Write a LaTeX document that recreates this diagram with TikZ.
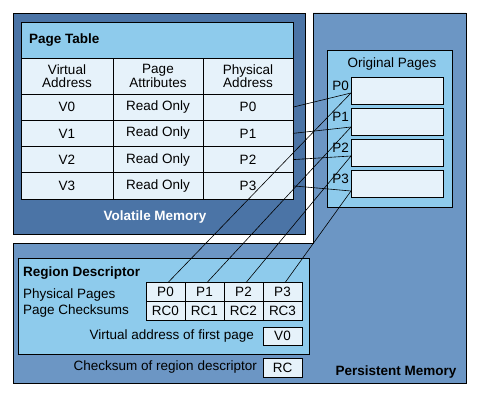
\documentclass[tikz,border=0pt]{standalone}
\usepackage{fontspec}
\setmainfont{Liberation Sans}
\usepackage{xcolor}
\definecolor{volblue}{RGB}{75,116,166}
\definecolor{persblue}{RGB}{108,150,196}
\definecolor{paneblue}{RGB}{142,203,236}
\definecolor{cellblue}{RGB}{230,242,250}
\usepackage{tikz}
\usetikzlibrary{positioning}
\newcommand{\memfont}{\fontsize{13.5}{12.5}\selectfont}
\tikzset{
  memarea/.style={draw=black, line width=0.8pt, inner sep=0pt, outer sep=0pt},
  panel/.style={memarea, fill=paneblue},
  cell/.style={memarea, fill=cellblue, align=center, font=\memfont},
  colvirt/.style={cell, minimum width=92pt, minimum height=26.25pt},
  colattr/.style={cell, minimum width=90pt, minimum height=26.25pt},
  colphys/.style={cell, minimum width=90pt, minimum height=26.25pt},
  headcell/.style={cell, minimum height=36pt},
  pagebox/.style={cell, minimum width=92pt, minimum height=27pt},
  slot/.style={cell, minimum width=39pt, minimum height=19pt},
  plaintext/.style={inner sep=0pt, font=\memfont},
  headtext/.style={inner sep=0pt, font=\memfont\bfseries},
  link/.style={draw=black, line width=0.6pt},
}

\begin{document}
\begin{tikzpicture}[x=1pt, y=-1pt]
  \useasboundingbox (0,0) rectangle (479,396);

  % memory areas
  \draw[memarea, fill=persblue] (313,13) -- (466,13) -- (466,383) -- (13,383)
    -- (13,243) -- (313,243) -- cycle;
  \node[memarea, fill=volblue, anchor=north west, minimum width=292pt, minimum height=221pt] (volatile) at (13,13) {};
  \node[headtext, text=white, anchor=base] (vollabel) at (155,220) {Volatile Memory};
  \node[headtext, anchor=base] (perslabel) at (396,375) {Persistent Memory};

  % page table
  \node[panel, anchor=north west, minimum width=272pt, minimum height=36pt] (pttitle) at (21,22) {};
  \node[headtext, anchor=base west] (ptname) at (29,44) {Page Table};

  \node[headcell, minimum width=92pt, below right=0pt and 0pt of pttitle.south west] (hvirt) {Virtual\\Address};
  \node[headcell, minimum width=90pt, right=0pt of hvirt] (hattr) {Page\\Attributes};
  \node[headcell, minimum width=90pt, right=0pt of hattr] (hphys) {Physical\\Address};

  \node[colvirt, below=0pt of hvirt] (va0) {V0};
  \node[colattr, right=0pt of va0] (at0) {Read Only};
  \node[colphys, right=0pt of at0] (pa0) {P0};
  \node[colvirt, below=0pt of va0] (va1) {V1};
  \node[colattr, right=0pt of va1] (at1) {Read Only};
  \node[colphys, right=0pt of at1] (pa1) {P1};
  \node[colvirt, below=0pt of va1] (va2) {V2};
  \node[colattr, right=0pt of va2] (at2) {Read Only};
  \node[colphys, right=0pt of at2] (pa2) {P2};
  \node[colvirt, below=0pt of va2] (va3) {V3};
  \node[colattr, right=0pt of va3] (at3) {Read Only};
  \node[colphys, right=0pt of at3] (pa3) {P3};

  % original pages
  \node[panel, anchor=north west, minimum width=125pt, minimum height=157pt] (orig) at (327,50) {};
  \node[plaintext, anchor=base] (origname) at (392,67) {Original Pages};
  \node[pagebox, anchor=north west] (pg0) at (351,77) {};
  \node[pagebox, below=4pt of pg0] (pg1) {};
  \node[pagebox, below=4pt of pg1] (pg2) {};
  \node[pagebox, below=4pt of pg2] (pg3) {};
  \node[plaintext, left=2pt of pg0.west, yshift=5pt] (pl0) {P0};
  \node[plaintext, left=2pt of pg1.west, yshift=5pt] (pl1) {P1};
  \node[plaintext, left=2pt of pg2.west, yshift=5pt] (pl2) {P2};
  \node[plaintext, left=2pt of pg3.west, yshift=5pt] (pl3) {P3};

  % region descriptor
  \node[panel, anchor=north west, minimum width=291pt, minimum height=96pt] (regdesc) at (18,258) {};
  \node[headtext, anchor=base west] (rdname) at (23,276) {Region Descriptor};
  \node[plaintext, anchor=base west] (pplabel) at (23,298) {Physical Pages};
  \node[plaintext, anchor=base west] (cslabel) at (23,314) {Page Checksums};

  \node[slot, anchor=north west] (pp0) at (146,282) {P0};
  \node[slot, right=0pt of pp0] (pp1) {P1};
  \node[slot, right=0pt of pp1] (pp2) {P2};
  \node[slot, right=0pt of pp2] (pp3) {P3};
  \node[slot, below=0pt of pp0] (rc0) {RC0};
  \node[slot, below=0pt of pp1] (rc1) {RC1};
  \node[slot, below=0pt of pp2] (rc2) {RC2};
  \node[slot, below=0pt of pp3] (rc3) {RC3};

  \node[slot, minimum height=18pt, below=7pt of rc3] (vfirst) {V0};
  \node[plaintext, left=9pt of vfirst] (vflabel) {Virtual address of first page};
  \node[slot, below=13pt of vfirst] (rcsum) {RC};
  \node[plaintext, left=6pt of rcsum] (rclabel) {Checksum of region descriptor};

  % links to the original pages
  \coordinate (t0) at ([yshift=-2.5pt]pg0.west);
  \coordinate (t1) at ([yshift=-5.5pt]pg1.west);
  \coordinate (t2) at ([yshift=-3.5pt]pg2.west);
  \coordinate (t3) at ([yshift=-7.5pt]pg3.west);

  \draw[link] (pa0.east) -- (t0);
  \draw[link] (pa1.east) -- (t1);
  \draw[link] (pa2.east) -- (t2);
  \draw[link] (pa3.east) -- (t3);

  \draw[link] ([xshift=3pt]pp0.north) -- (t0);
  \draw[link] ([xshift=3pt]pp1.north) -- (t1);
  \draw[link] ([xshift=3pt]pp2.north) -- (t2);
  \draw[link] ([xshift=3pt]pp3.north) -- (t3);

\end{tikzpicture}
\end{document}
